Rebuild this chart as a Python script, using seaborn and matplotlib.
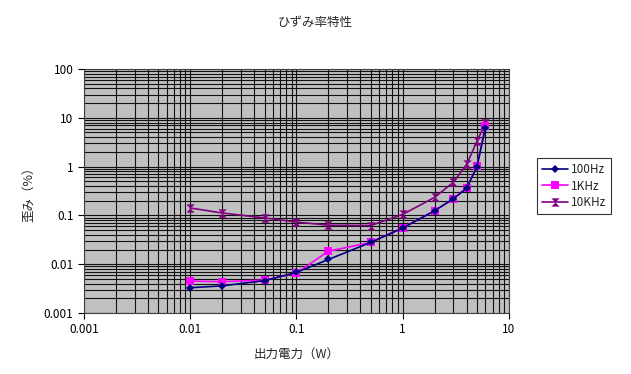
import numpy as np
import pandas as pd
import matplotlib
matplotlib.use("Agg")
import matplotlib.pyplot as plt
import seaborn as sns
from matplotlib.ticker import LogLocator, FixedLocator, FixedFormatter, NullFormatter

# data
power_w = [0.01, 0.02, 0.05, 0.1, 0.2, 0.5, 1, 2, 3, 4, 5, 6]
dist_100hz = [0.0033, 0.0036, 0.0046, 0.0068, 0.0125, 0.028, 0.055, 0.125, 0.22, 0.36, 1.0, 6.3]
dist_1khz = [0.0045, 0.0044, 0.0047, 0.0066, 0.0185, 0.028, 0.056, 0.125, 0.22, 0.37, 1.05, 6.9]
dist_10khz = [0.142, 0.112, 0.089, 0.073, 0.063, 0.062, 0.105, 0.235, 0.48, 1.12, 3.3, 7.8]
series_names = ["100Hz", "1KHz", "10KHz"]

df = pd.DataFrame({
    "power": power_w * 3,
    "dist": dist_100hz + dist_1khz + dist_10khz,
    "freq": np.repeat(series_names, len(power_w)),
})

sns.set_theme(style="white")
plt.rcParams["font.family"] = ["Noto Sans CJK JP", "DejaVu Sans"]

fig = plt.figure(figsize=(6.31, 3.74), dpi=100)
ax = fig.add_axes([84 / 631, 1 - 313 / 374, (509 - 84) / 631, (313 - 69) / 374])
ax.set_facecolor("#C0C0C0")

hourglass = [(-1, 1), (1, 1), (-1, -1), (1, -1), (-1, 1)]
palette = {"100Hz": "#000080", "1KHz": "#FF00FF", "10KHz": "#800080"}
markers = {"100Hz": "D", "1KHz": "s", "10KHz": hourglass}
sizes = {"100Hz": 4.5, "1KHz": 5.5, "10KHz": 6}
zorders = {"100Hz": 5, "1KHz": 4, "10KHz": 3}

for name in series_names:
    sub = df[df["freq"] == name]
    sns.lineplot(data=sub, x="power", y="dist", ax=ax, color=palette[name],
                 marker=markers[name], markersize=sizes[name], markeredgewidth=0,
                 linewidth=1.2, label=name, zorder=zorders[name])

ax.set_xscale("log")
ax.set_yscale("log")
ax.set_xlim(0.001, 10)
ax.set_ylim(0.001, 100)

ax.xaxis.set_major_locator(FixedLocator([0.001, 0.01, 0.1, 1, 10]))
ax.xaxis.set_major_formatter(FixedFormatter(["0.001", "0.01", "0.1", "1", "10"]))
ax.yaxis.set_major_locator(FixedLocator([0.001, 0.01, 0.1, 1, 10, 100]))
ax.yaxis.set_major_formatter(FixedFormatter(["0.001", "0.01", "0.1", "1", "10", "100"]))
ax.xaxis.set_minor_locator(LogLocator(base=10, subs=np.arange(2, 10), numticks=20))
ax.yaxis.set_minor_locator(LogLocator(base=10, subs=np.arange(2, 10), numticks=20))
ax.xaxis.set_minor_formatter(NullFormatter())
ax.yaxis.set_minor_formatter(NullFormatter())

ax.grid(which="both", color="#111111", linewidth=0.8, zorder=1)
ax.set_axisbelow(True)
ax.tick_params(which="major", direction="out", length=4, width=0.8, colors="black",
               labelsize=8.5, left=True, bottom=True)
ax.tick_params(which="minor", length=0)
for s in ax.spines.values():
    s.set_color("#404040")
    s.set_linewidth(0.8)

ax.set_xlabel("出力電力（W）", fontsize=9, labelpad=8)
ax.set_ylabel("歪み（%）", fontsize=9, labelpad=6)
fig.text(0.5, 1 - 22 / 374, "ひずみ率特性", ha="center", va="center", fontsize=9)

leg = ax.legend(loc="center left", bbox_to_anchor=(531 / 631, 1 - 186 / 374),
                bbox_transform=fig.transFigure, frameon=True, fancybox=False,
                fontsize=8.5, handlelength=2.2, borderpad=0.4, labelspacing=0.3,
                handletextpad=0.3)
leg.get_frame().set_edgecolor("black")
leg.get_frame().set_linewidth(0.8)
leg.get_frame().set_facecolor("white")

fig.savefig("out.png", dpi=100)
